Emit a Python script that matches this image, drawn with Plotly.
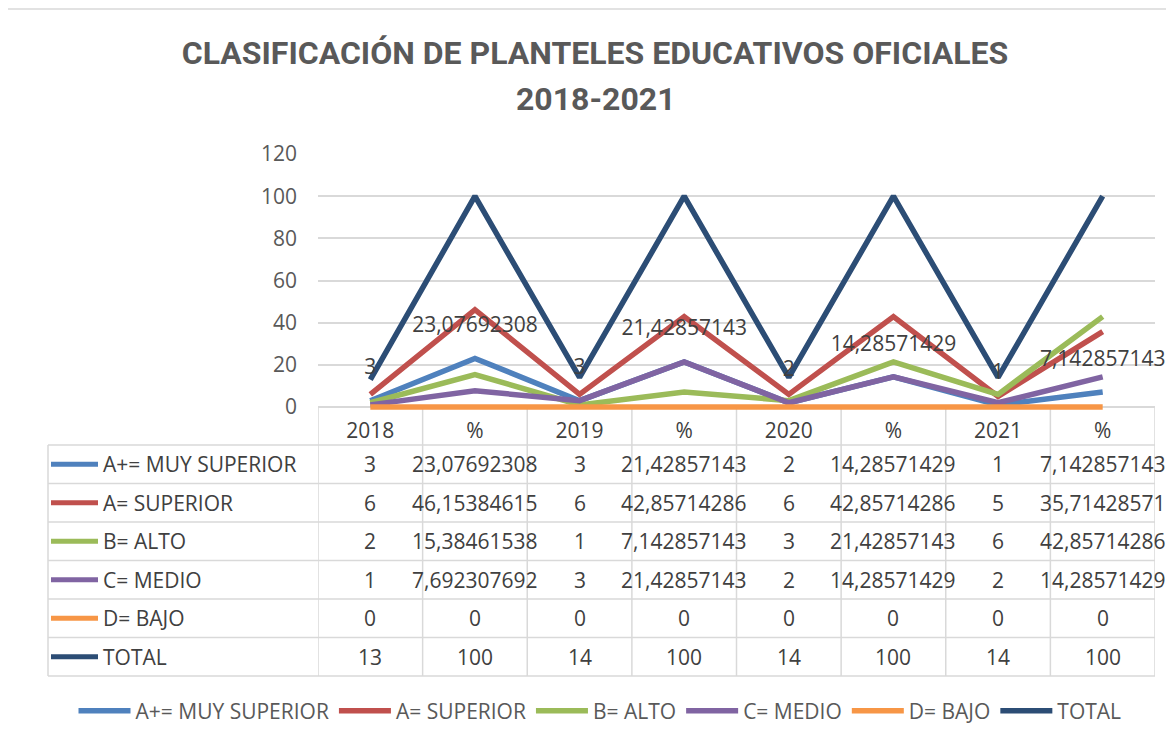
import plotly.graph_objects as go

W, H = 1174, 744
OFF = 8  # the page body adds an 8px margin around the figure

# column headers of the data table / x categories
columns = ["2018", "%", "2019", "%", "2020", "%", "2021", "%"]

series_names = ["A+= MUY SUPERIOR", "A= SUPERIOR", "B= ALTO", "C= MEDIO", "D= BAJO", "TOTAL"]
a_plus = [3, 23.07692308, 3, 21.42857143, 2, 14.28571429, 1, 7.142857143]
a_sup = [6, 46.15384615, 6, 42.85714286, 6, 42.85714286, 5, 35.71428571]
b_alto = [2, 15.38461538, 1, 7.142857143, 3, 21.42857143, 6, 42.85714286]
c_medio = [1, 7.692307692, 3, 21.42857143, 2, 14.28571429, 2, 14.28571429]
d_bajo = [0, 0, 0, 0, 0, 0, 0, 0]
total = [13, 100, 14, 100, 14, 100, 14, 100]

colors = ["#4F81BD", "#C0504D", "#9BBB59", "#8064A2", "#F79646", "#2C4D75"]
all_series = [a_plus, a_sup, b_alto, c_medio, d_bajo, total]

TXT = "#404040"
GRID = "#D9D9D9"
FONT = "Open Sans, Liberation Sans, sans-serif"
TITLE_FONT = "Roboto, Liberation Sans, sans-serif"
FS = 21


def px_x(p):
    return (p - OFF) / W


def px_y(p):
    return 1 - (p - OFF) / H


def fmt(v):
    return f"{v:.10g}".replace(".", ",")


# plot area: value 0 at pixel 407, value 120 at pixel 154
y0_px, y120_px = 407, 154
unit = (y0_px - y120_px) / 120
y_min = -3  # a little room so the line at 0 is not cut in half

x_idx = list(range(len(columns)))
fig = go.Figure()

for name, vals, col in zip(series_names, all_series, colors):
    fig.add_trace(go.Scatter(
        x=x_idx, y=vals, name=name, mode="lines",
        line=dict(color=col, width=5.5),
    ))

# data labels of the first series (shown above the points in the original)
fig.add_trace(go.Scatter(
    x=x_idx, y=[v + 15 for v in a_plus], mode="text",
    text=[fmt(v) for v in a_plus], textposition="middle center",
    textfont=dict(size=FS, color=TXT, family=FONT), cliponaxis=False,
    showlegend=False, hoverinfo="skip",
))

# ---- data table under the plot ----
row_top = y0_px
head_h = 38
row_h = 38.5
table_left = 48
shapes = []
annotations = []
n_rows = len(series_names)
table_bottom = row_top + head_h + n_rows * row_h

# top border of the table (axis line)
shapes.append(dict(type="line", xref="paper", yref="paper",
                   x0=px_x(318), x1=px_x(1155), y0=px_y(row_top), y1=px_y(row_top),
                   line=dict(color=GRID, width=1.5), layer="below"))
# vertical lines in data columns
for k in range(len(columns) + 1):
    shapes.append(dict(type="line", xref="x", yref="paper", x0=k - 0.5, x1=k - 0.5,
                       y0=px_y(row_top), y1=px_y(table_bottom),
                       line=dict(color=GRID, width=1.5), layer="below"))
# left border of label column
shapes.append(dict(type="line", xref="paper", yref="paper",
                   x0=px_x(table_left), x1=px_x(table_left),
                   y0=px_y(row_top + head_h), y1=px_y(table_bottom),
                   line=dict(color=GRID, width=1.5)))
# horizontal lines
for r in range(n_rows + 1):
    yy = row_top + head_h + r * row_h
    shapes.append(dict(type="line", xref="paper", yref="paper",
                       x0=px_x(table_left), x1=px_x(1155),
                       y0=px_y(yy), y1=px_y(yy),
                       line=dict(color=GRID, width=1.5)))

for r, (name, vals, col) in enumerate(zip(series_names, all_series, colors)):
    yc = row_top + head_h + (r + 0.5) * row_h
    shapes.append(dict(type="line", xref="paper", yref="paper",
                       x0=px_x(51), x1=px_x(98), y0=px_y(yc), y1=px_y(yc),
                       line=dict(color=col, width=5)))
    annotations.append(dict(xref="paper", yref="paper", x=px_x(101), y=px_y(yc),
                            text=name, showarrow=False, xanchor="left", yanchor="middle",
                            font=dict(size=FS, color=TXT, family=FONT)))
    for k, v in enumerate(vals):
        annotations.append(dict(xref="x", yref="paper", x=k, y=px_y(yc),
                                text=fmt(v), showarrow=False, xanchor="center",
                                yanchor="middle",
                                font=dict(size=FS, color=TXT, family=FONT)))

# second title line
annotations.append(dict(xref="paper", yref="paper", x=px_x(595), y=px_y(99),
                        text="2018-2021", showarrow=False, xanchor="center",
                        yanchor="middle",
                        font=dict(size=32, color="#595959", family=TITLE_FONT,
                                  weight="bold")))

# chart border
shapes.append(dict(type="rect", xref="paper", yref="paper",
                   x0=px_x(3), x1=px_x(1190), y0=px_y(9), y1=px_y(760),
                   line=dict(color=GRID, width=1.5)))

fig.update_xaxes(
    range=[-0.5, len(columns) - 0.5],
    domain=[px_x(318), px_x(1155)],
    tickvals=x_idx, ticktext=columns,
    showgrid=False, showline=False,
    ticks="", ticklabelstandoff=3, automargin=False,
    tickfont=dict(size=FS, color=TXT, family=FONT),
    zeroline=False,
)
fig.update_yaxes(
    range=[y_min, 120], tickvals=[0, 20, 40, 60, 80, 100, 120],
    domain=[px_y(y0_px - y_min * unit), px_y(y120_px)],
    showgrid=True, gridcolor=GRID, gridwidth=1.5, automargin=False,
    zeroline=False, showline=False, ticks="", ticklabelstandoff=20,
    tickfont=dict(size=FS, color="#595959", family=FONT),
)

fig.update_layout(
    width=W, height=H,
    margin=dict(l=0, r=0, t=0, b=0, autoexpand=False),
    paper_bgcolor="white", plot_bgcolor="white",
    title=dict(text="CLASIFICACIÓN DE PLANTELES EDUCATIVOS OFICIALES",
               xref="paper", yref="paper",
               x=px_x(595), xanchor="center", y=px_y(53), yanchor="middle",
               font=dict(size=32, color="#595959", family=TITLE_FONT, weight="bold")),
    legend=dict(orientation="h", x=px_x(600), xanchor="center", y=px_y(711),
                yanchor="middle", font=dict(size=FS, color="#595959", family=FONT),
                itemwidth=52, tracegroupgap=0),
    shapes=shapes, annotations=annotations,
    showlegend=True,
)

fig.write_html("out.html")
